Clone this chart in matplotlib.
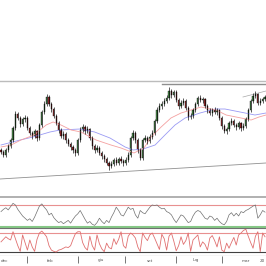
import numpy as np
import matplotlib
matplotlib.use("Agg")
import matplotlib.pyplot as plt

# candles (price units)
opens = [50, 48, 45, 50, 54, 60, 72, 86, 82, 76,
         81, 82, 72, 67, 64, 69, 62, 75, 88, 96,
         103, 96, 91, 84, 77, 70, 64, 66, 60, 56,
         53, 50, 47, 60, 70, 73, 69, 71, 62, 54,
         50, 52, 47, 44, 41, 37, 34, 36, 40, 37,
         41, 39, 37, 40, 45, 62, 67, 60, 50, 42,
         60, 62, 59, 63, 67, 79, 90, 94, 96, 99,
         102, 109, 105, 108, 100, 94, 97, 99, 92, 83,
         84, 90, 96, 102, 100, 101, 94, 90, 87, 90,
         88, 90, 82, 74, 69, 71, 77, 79, 75, 73,
         77, 72, 74, 81, 90, 99, 104, 106, 97, 99, 101]
closes = [48, 45, 50, 54, 60, 72, 86, 82, 76, 81,
          82, 72, 67, 64, 69, 62, 75, 88, 96, 103,
          96, 91, 84, 77, 70, 64, 66, 60, 56, 53,
          50, 47, 60, 70, 73, 69, 71, 62, 54, 50,
          52, 47, 44, 41, 37, 34, 36, 40, 37, 41,
          39, 37, 40, 45, 62, 67, 60, 50, 42, 60,
          62, 59, 63, 67, 79, 90, 94, 96, 99, 102,
          109, 105, 108, 100, 94, 97, 99, 92, 83, 84,
          90, 96, 102, 100, 101, 94, 90, 87, 90, 88,
          90, 82, 74, 69, 71, 77, 79, 75, 73, 77,
          72, 74, 81, 90, 99, 104, 106, 97, 99, 101, 103]
highs = [52, 50, 52, 56, 62, 74, 89, 88, 84, 83,
         85, 84, 74, 69, 71, 70, 77, 90, 99, 106,
         105, 98, 93, 86, 79, 72, 69, 68, 62, 58,
         55, 52, 62, 73, 76, 75, 74, 72, 64, 56,
         55, 54, 49, 46, 43, 39, 39, 42, 43, 43,
         44, 41, 43, 48, 64, 70, 69, 62, 52, 62,
         65, 64, 66, 70, 81, 93, 97, 99, 102, 105,
         113, 111, 110, 110, 102, 100, 102, 101, 94, 87,
         92, 98, 104, 105, 103, 102, 96, 92, 92, 93,
         92, 91, 84, 76, 73, 79, 82, 81, 77, 79,
         78, 77, 83, 92, 101, 107, 109, 107, 102, 103, 105]
lows = [46, 43, 43, 48, 52, 58, 70, 80, 73, 74,
        78, 70, 65, 61, 62, 59, 60, 73, 86, 94,
        94, 88, 82, 75, 67, 62, 61, 57, 54, 50,
        47, 44, 45, 58, 68, 66, 67, 60, 51, 47,
        48, 45, 41, 38, 35, 30, 32, 34, 35, 35,
        37, 34, 35, 38, 43, 60, 57, 47, 40, 40,
        58, 56, 57, 61, 65, 77, 88, 91, 94, 97,
        100, 102, 103, 98, 91, 92, 95, 90, 80, 81,
        82, 88, 94, 98, 97, 92, 87, 85, 84, 86,
        85, 80, 71, 67, 66, 69, 75, 73, 70, 71,
        69, 70, 72, 79, 88, 97, 102, 95, 95, 97, 99]

# moving averages, sampled along the curve
ma_red_x = [0, 4.2, 8.3, 13.8, 18.8, 21.7, 25, 29.2, 33.3, 39.6, 45.8, 50, 55.4,
            59.6, 62.5, 66.7, 70.8, 75, 79.2, 83.3, 89.6, 93.8, 100, 104.2, 107.5, 110.4]
ma_red = [53, 55, 60, 65, 75, 78, 75, 70, 68, 60, 55, 52, 47,
          52, 63, 73, 82, 87, 90, 93, 90, 85, 82, 80, 83, 85]
ma_blue_x = [0, 8, 13.3, 20.4, 24.6, 33, 39, 45.4, 51.7, 55, 59.2, 64.2, 68.3,
             72.5, 76.7, 82.9, 89.2, 93.3, 99.6, 105.8, 110.4]
ma_blue = [55, 60, 63, 68, 70, 71, 68, 62, 53, 50, 51, 55, 65,
           75, 82, 87, 91, 91, 88, 85, 87]

# oscillators
rsi = [58, 62, 65, 61, 67, 73, 70, 62, 56, 50,
       46, 42, 45, 40, 48, 58, 68, 72, 66, 61,
       52, 55, 47, 42, 38, 40, 36, 39, 42, 37,
       44, 50, 54, 60, 52, 44, 37, 40, 35, 33,
       38, 46, 40, 36, 42, 38, 48, 56, 66, 60,
       52, 50, 58, 66, 62, 64, 52, 46, 60, 56,
       54, 60, 66, 70, 69, 70, 66, 63, 64, 58,
       56, 52, 44, 38, 45, 52, 50, 44, 38, 40,
       50, 57, 60, 58, 52, 46, 44, 50, 48, 42,
       46, 40, 36, 34, 40, 52, 56, 50, 55, 50,
       58, 56, 60, 62, 65, 68, 70, 46, 52, 60, 57]
stoch = [52, 60, 68, 62, 58, 84, 62, 40, 22, 74,
         50, 26, 58, 36, 22, 60, 80, 86, 78, 68,
         40, 26, 22, 20, 26, 28, 32, 36, 34, 40,
         60, 78, 84, 84, 50, 34, 26, 70, 40, 26,
         74, 46, 30, 21, 48, 34, 30, 62, 44, 60,
         84, 40, 32, 70, 80, 74, 64, 36, 21, 80,
         66, 56, 74, 80, 64, 46, 28, 76, 62, 26,
         70, 80, 54, 24, 40, 68, 44, 56, 80, 22,
         58, 66, 74, 36, 52, 44, 26, 64, 72, 56,
         36, 68, 26, 21, 48, 32, 50, 66, 42, 74,
         80, 88, 92, 70, 50, 32, 70, 84, 21, 80, 68]

tick_pos = [10.8, 32.1, 51.7, 72.9, 92.1]
month_pos = [0.0, 20.4, 41.7, 62.1, 81.3, 102.1, 109.0]
month_labels = ["dec", "feb", "giu", "set", "lug", "mar", "20"]

XLIM = (-0.42, 110.4)

fig = plt.figure(figsize=(2.66, 2.66), dpi=100)
fig.patch.set_facecolor("white")

ax = fig.add_axes([0, 69 / 266, 1, 197 / 266])
ax2 = fig.add_axes([0, 38 / 266, 1, 31 / 266])
ax3 = fig.add_axes([0, 10 / 266, 1, 28 / 266])
ax4 = fig.add_axes([0, 0, 1, 10 / 266])
for a in (ax, ax2, ax3, ax4):
    a.set_xlim(*XLIM)
    a.set_xticks([])
    a.set_yticks([])
    for s in a.spines.values():
        s.set_visible(False)

# main price panel
idx = np.arange(len(closes))
o = np.array(opens)
c = np.array(closes)
up = c >= o
ax.set_ylim(3, 200)
ax.plot([XLIM[0], XLIM[1]], [119, 119], color="#bcbcbc", lw=1.0)
ax.plot([67.1, XLIM[1]], [116, 116], color="#8e8e8e", lw=1.0)
ax.plot([XLIM[0], XLIM[1]], [21, 37], color="#909090", lw=0.6)
ax.plot([100.8, XLIM[1]], [103, 109], color="#a8a8a8", lw=0.5)
ax.plot(ma_blue_x, ma_blue, color="#9a9af4", lw=0.6)
ax.plot(ma_red_x, ma_red, color="#f4a0a0", lw=0.6)
ax.vlines(idx, lows, highs, color="black", lw=0.45)
ax.bar(idx[up], (c - o)[up], bottom=o[up], width=0.55,
       color="#4a8a4a", edgecolor="black", lw=0.25)
ax.bar(idx[~up], (o - c)[~up], bottom=c[~up], width=0.55,
       color="#a03030", edgecolor="black", lw=0.25)

# rsi panel
ax2.set_ylim(28.2, 84.5)
ax2.spines["top"].set_visible(True)
ax2.spines["top"].set_color("#b0b0b0")
ax2.spines["top"].set_linewidth(1.4)
ax2.axhline(70, color="#e89090", lw=0.8)
ax2.axhline(30, color="#86c886", lw=1.5)
ax2.plot(idx, rsi, color="#707070", lw=0.5)

# stochastic panel
ax3.set_ylim(7.4, 95.8)
ax3.spines["top"].set_visible(True)
ax3.spines["top"].set_color("#707070")
ax3.spines["top"].set_linewidth(0.8)
ax3.spines["bottom"].set_visible(True)
ax3.spines["bottom"].set_color("#505050")
ax3.spines["bottom"].set_linewidth(0.8)
ax3.axhline(80, color="#e89090", lw=0.8)
ax3.axhline(20, color="#404040", lw=0.8)
ax3.plot(idx, stoch, color="#e07070", lw=0.6)

# date strip
ax4.set_ylim(0, 1)
ax4.vlines(tick_pos, 0.35, 1, color="#606060", lw=0.6)
for xp, lab in zip(month_pos, month_labels):
    ax4.text(xp, 0.55, lab, fontsize=3, ha="left" if xp == 0.0 else "center",
             va="center", color="#555555")

fig.savefig("out.png", dpi=100)
